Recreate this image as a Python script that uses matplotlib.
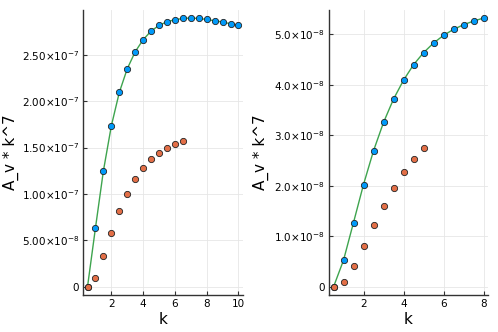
import matplotlib
matplotlib.use("Agg")
import matplotlib.pyplot as plt
from matplotlib.ticker import FixedLocator, FixedFormatter

# left panel
k_left = [0.5, 1, 1.5, 2, 2.5, 3, 3.5, 4, 4.5, 5, 5.5, 6, 6.5, 7, 7.5, 8, 8.5, 9, 9.5, 10]
blue_left = [0.002, 0.636, 1.25, 1.735, 2.094, 2.349, 2.532, 2.662, 2.755, 2.816,
             2.856, 2.877, 2.891, 2.895, 2.891, 2.880, 2.866, 2.852, 2.834, 2.816]
blue_left = [v * 1e-7 for v in blue_left]
k_left_o = [0.5, 1, 1.5, 2, 2.5, 3, 3.5, 4, 4.5, 5, 5.5, 6, 6.5]
orange_left = [-0.001, 0.10, 0.327, 0.585, 0.819, 1.005, 1.16, 1.279, 1.372, 1.444, 1.498, 1.538, 1.566]
orange_left = [v * 1e-7 for v in orange_left]
yt_left = [0, 5e-8, 1e-7, 1.5e-7, 2e-7, 2.5e-7]
yl_left = ["0", r"$5.00{\times}10^{-8}$", r"$1.00{\times}10^{-7}$", r"$1.50{\times}10^{-7}$",
           r"$2.00{\times}10^{-7}$", r"$2.50{\times}10^{-7}$"]
xt_left = [2, 4, 6, 8, 10]

# right panel
k_right = [0.5, 1, 1.5, 2, 2.5, 3, 3.5, 4, 4.5, 5, 5.5, 6, 6.5, 7, 7.5, 8]
blue_right = [0.0, 0.528, 1.274, 2.026, 2.693, 3.254, 3.716, 4.09, 4.396, 4.634,
              4.825, 4.977, 5.096, 5.188, 5.26, 5.32]
blue_right = [v * 1e-8 for v in blue_right]
k_right_o = [0.5, 1, 1.5, 2, 2.5, 3, 3.5, 4, 4.5, 5]
orange_right = [0.0, 0.105, 0.416, 0.805, 1.221, 1.61, 1.967, 2.27, 2.528, 2.752]
orange_right = [v * 1e-8 for v in orange_right]
yt_right = [0, 1e-8, 2e-8, 3e-8, 4e-8, 5e-8]
yl_right = ["0", r"$1.0{\times}10^{-8}$", r"$2.0{\times}10^{-8}$", r"$3.0{\times}10^{-8}$",
            r"$4.0{\times}10^{-8}$", r"$5.0{\times}10^{-8}$"]
xt_right = [2, 4, 6, 8]

BLUE = "#009AFA"
ORANGE = "#E36F47"
GREEN = "#3EA44E"

plt.rcParams["mathtext.fontset"] = "dejavusans"

fig = plt.figure(figsize=(4.98, 3.32), dpi=100)
W, H = 498, 332


def panel(rect, label_x, kb, yb, ko, yo, yt, yl, xt):
    x0, y0, x1, y1 = rect
    ax = fig.add_axes([x0 / W, 1 - y1 / H, (x1 - x0) / W, (y1 - y0) / H])
    ax.plot(kb, yb, color=GREEN, lw=1.0, zorder=2)
    ax.plot(kb, yb, "o", color=BLUE, mec="#222222", mew=0.6, ms=4.5, zorder=3)
    ax.plot(ko, yo, "o", color=ORANGE, mec="#222222", mew=0.6, ms=4.5, zorder=3)
    xmin, xmax = min(kb + ko), max(kb + ko)
    ymin, ymax = min(yb + yo), max(yb + yo)
    dx, dy = (xmax - xmin) * 0.03, (ymax - ymin) * 0.03
    ax.set_xlim(xmin - dx, xmax + dx)
    ax.set_ylim(ymin - dy, ymax + dy)
    ax.yaxis.set_major_locator(FixedLocator(yt))
    ax.yaxis.set_major_formatter(FixedFormatter(yl))
    ax.set_xticks(xt)
    ax.grid(True, color="#e6e6e6", lw=0.6)
    ax.set_axisbelow(True)
    for s in ["top", "right"]:
        ax.spines[s].set_visible(False)
    for s in ["left", "bottom"]:
        ax.spines[s].set_color("#333333")
        ax.spines[s].set_linewidth(1.0)
    ax.tick_params(direction="in", length=3, width=0.8, labelsize=7.5, colors="#333333",
                   labelcolor="black", pad=3)
    ax.set_xlabel("k", fontsize=11, labelpad=2)
    ax.set_ylabel("A_v * k^7", fontsize=11)
    ax.yaxis.set_label_coords((label_x - x0) / (x1 - x0), 0.5)
    return ax


panel((83, 10, 243, 295), 19, k_left, blue_left, k_left_o, orange_left, yt_left, yl_left, xt_left)
panel((329, 10, 488, 295), 269, k_right, blue_right, k_right_o, orange_right, yt_right, yl_right, xt_right)

fig.savefig("out.png", dpi=100)
